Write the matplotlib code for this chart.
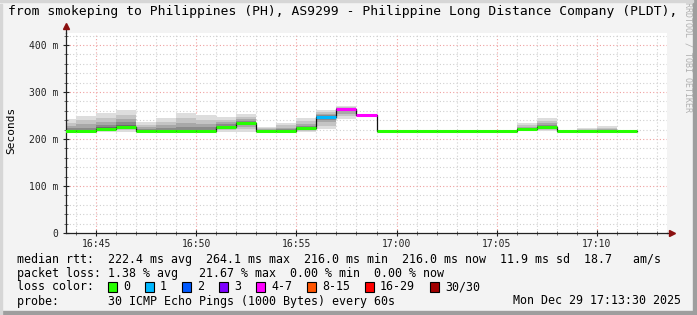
import numpy as np
import matplotlib
matplotlib.use('Agg')
import matplotlib.pyplot as plt
from matplotlib.patches import Rectangle

MONO = 'DejaVu Sans Mono'
W, H = 697, 315

# one sample per minute, 16:43 .. 17:11
minutes = ['16:43', '16:44', '16:45', '16:46', '16:47', '16:48', '16:49', '16:50',
           '16:51', '16:52', '16:53', '16:54', '16:55', '16:56', '16:57', '16:58',
           '16:59', '17:00', '17:01', '17:02', '17:03', '17:04', '17:05', '17:06',
           '17:07', '17:08', '17:09', '17:10', '17:11']
median = [216.0, 216.0, 221.0, 226.5, 216.0, 216.0, 216.0, 216.0,
          226.0, 234.5, 216.0, 216.0, 223.5, 247.5, 264.1, 250.0,
          216.0, 216.0, 216.0, 216.0, 216.0, 216.0, 216.0, 220.5,
          226.0, 216.0, 216.0, 216.0, 216.0]
smoke_lo = [215, 215, 215, 215, 215, 215, 215, 215,
            215, 215, 215, 215, 215, 220.6, 242, 250,
            216, 216, 216, 216, 216, 216, 216, 216,
            216, 216, 216, 216, 216]
smoke_hi = [242.5, 249.6, 256, 261.7, 235.5, 245.3, 256, 251,
            247.5, 253, 226, 234.7, 244, 261.7, 270, 250,
            216, 216, 216, 216, 216, 216, 216, 233,
            244, 216, 223, 227.7, 216]
loss_idx = [0, 0, 0, 0, 0, 0, 0, 0, 0, 0, 0, 0, 0, 1, 4, 4,
            0, 0, 0, 0, 0, 0, 0, 0, 0, 0, 0, 0, 0]

loss_labels = ['0', '1', '2', '3', '4-7', '8-15', '16-29', '30/30']
loss_colors = ['#26ff00', '#00b8ff', '#0059ff', '#7e00ff', '#ff00ff',
               '#ff5500', '#ff0000', '#a10000']

xticks = [45, 50, 55, 60, 65, 70]
xticklabels = ['16:45', '16:50', '16:55', '17:00', '17:05', '17:10']
yticks = [0, 100, 200, 300, 400]
yticklabels = ['0', '100 m', '200 m', '300 m', '400 m']


def tmin(s):
    h, m = s.split(':')
    return (int(h) - 16) * 60 + int(m)


t = np.array([tmin(s) for s in minutes], dtype=float)
med = np.array(median)
lo = np.array(smoke_lo, dtype=float)
hi = np.array(smoke_hi, dtype=float)

fig = plt.figure(figsize=(W / 100, H / 100), dpi=100, facecolor='#f3f3f3')


def fx(x):
    return x / W


def fy(y):
    return 1 - y / H


# 3d-ish frame
fig.patches.append(Rectangle((0, 0), 1, 4 / H, transform=fig.transFigure, color='#9e9e9e', zorder=0))
fig.patches.append(Rectangle((1 - 4 / W, 0), 4 / W, 1, transform=fig.transFigure, color='#9e9e9e', zorder=0))
fig.patches.append(Rectangle((0, 0), 2 / W, 1 - 4 / H, transform=fig.transFigure, color='#d6d6d6', zorder=0))
fig.patches.append(Rectangle((0, 1 - 2 / H), 1 - 4 / W, 2 / H, transform=fig.transFigure, color='#d6d6d6', zorder=0))

ax = fig.add_axes([fx(66), 1 - 233 / H, 601 / W, 200 / H])
ax.set_facecolor('white')
ax.set_xlim(43.5, 73.5)
ax.set_ylim(0, 425.5)

# grid
dot = (0, (1, 2))
for x in np.arange(44, 74):
    major = x % 5 == 0
    ax.axvline(x, color='#f0a0a0' if major else '#d0d0d0', lw=0.8, ls=dot, zorder=0)
for y in np.arange(20, 426, 20):
    major = y % 100 == 0
    ax.axhline(y, color='#f0a0a0' if major else '#d0d0d0', lw=0.8, ls=dot, zorder=0)

# smoke
fracs = [1.0, 0.7, 0.45, 0.25, 0.1]
greys = ['#dddddd', '#c4c4c4', '#a8a8a8', '#8a8a8a', '#6a6a6a']
for i in range(len(t)):
    if hi[i] - lo[i] < 1:
        continue
    for f, g in zip(fracs, greys):
        b0 = med[i] - f * (med[i] - lo[i])
        b1 = med[i] + f * (hi[i] - med[i])
        ax.bar(t[i], b1 - b0, bottom=b0, width=1, align='edge', color=g, lw=0, zorder=1)

# median: black step, coloured by loss
edges = np.append(t, t[-1] + 1)
ax.step(edges, np.append(med, med[-1]), where='post', color='#111111', lw=0.9, zorder=2)
for i in range(len(t)):
    ax.hlines(med[i], t[i], t[i] + 1, color=loss_colors[loss_idx[i]], lw=2.2, zorder=3)

for s in ['top', 'right']:
    ax.spines[s].set_visible(False)
for s in ['left', 'bottom']:
    ax.spines[s].set_linewidth(0.9)
    ax.spines[s].set_color('#222222')

ax.set_xticks(xticks)
ax.set_xticklabels(xticklabels, fontfamily=MONO, fontsize=7, color='#222222')
ax.set_yticks(yticks)
ax.set_yticklabels(yticklabels, fontfamily=MONO, fontsize=7, color='#222222')
ax.set_xticks(np.arange(44, 74), minor=True)
ax.set_yticks(np.arange(20, 426, 20), minor=True)
ax.tick_params(axis='both', which='major', direction='inout', length=5, width=0.8, color='#222222')
ax.tick_params(axis='both', which='minor', direction='inout', length=3, width=0.6, color='#555555')
ax.tick_params(axis='x', which='major', pad=2)
ax.tick_params(axis='y', which='major', pad=3)

# axis arrows
ax.plot([0, 0], [1, 1.03], color='#222222', lw=0.9, transform=ax.transAxes, clip_on=False)
ax.plot([0], [1.035], marker='^', ms=5, color='#8b1010', transform=ax.transAxes, clip_on=False)
ax.plot([1, 1.008], [0, 0], color='#222222', lw=0.9, transform=ax.transAxes, clip_on=False)
ax.plot([1.008], [0], marker='>', ms=5, color='#8b1010', transform=ax.transAxes, clip_on=False)

fig.text(fx(11), fy(130), 'Seconds', rotation=90, fontfamily=MONO, fontsize=8,
         ha='center', va='center')
fig.text(fx(8), fy(12), 'from smokeping to Philippines (PH), AS9299 - Philippine Long Distance Company (PLDT),',
         fontfamily=MONO, fontsize=9.35, ha='left', va='center')
fig.text(fx(688), fy(2), 'RRDTOOL / TOBI OETIKER', rotation=270, fontfamily=MONO, fontsize=6,
         color='#b0b0b0', ha='center', va='top')

# legend
lf = 8.4
cw = 7.0
fig.text(fx(16.7), fy(259), 'median rtt:  222.4 ms avg  264.1 ms max  216.0 ms min  216.0 ms now  11.9 ms sd  18.7   am/s',
         fontfamily=MONO, fontsize=lf, ha='left', va='center')
fig.text(fx(16.7), fy(273), 'packet loss: 1.38 % avg   21.67 % max  0.00 % min  0.00 % now',
         fontfamily=MONO, fontsize=lf, ha='left', va='center')
fig.text(fx(16.7), fy(287), 'loss color:', fontfamily=MONO, fontsize=lf, ha='left', va='center')
cx = 108
for lab, col in zip(loss_labels, loss_colors):
    fig.patches.append(Rectangle((fx(cx), fy(292)), 9 / W, 10 / H, transform=fig.transFigure,
                                 facecolor=col, edgecolor='black', lw=0.8))
    fig.text(fx(cx + 15), fy(287), lab, fontfamily=MONO, fontsize=lf, ha='left', va='center')
    cx += 15 + cw * len(lab) + 15
fig.text(fx(16.7), fy(301), 'probe:       30 ICMP Echo Pings (1000 Bytes) every 60s',
         fontfamily=MONO, fontsize=lf, ha='left', va='center')
fig.text(fx(681), fy(301), 'Mon Dec 29 17:13:30 2025', fontfamily=MONO, fontsize=lf,
         ha='right', va='center')

fig.savefig('out.png', dpi=100, facecolor=fig.get_facecolor())
